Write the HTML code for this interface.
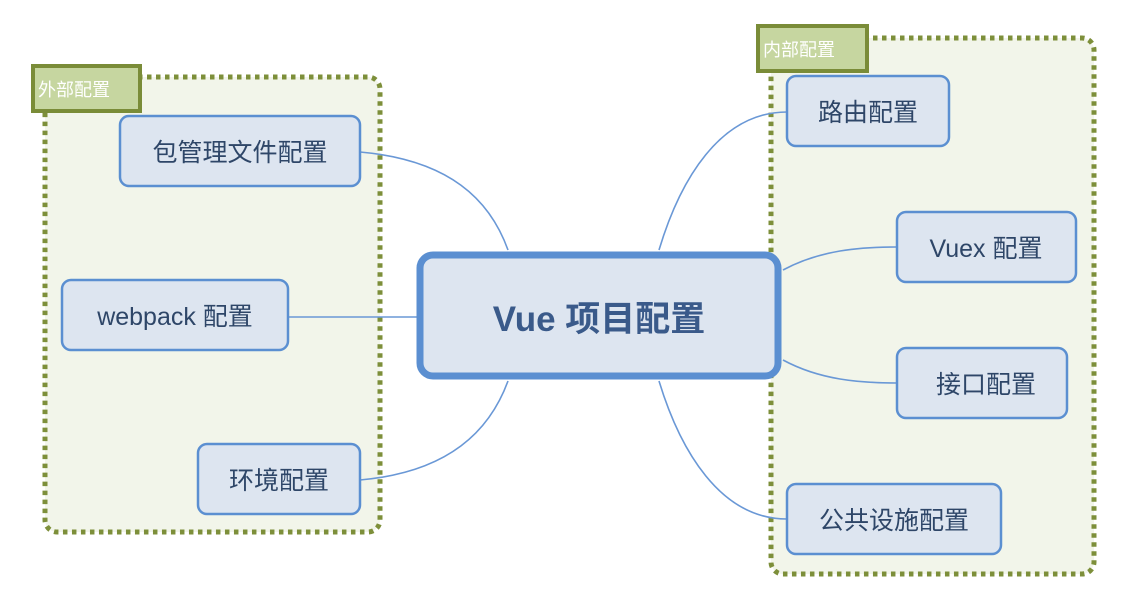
<!DOCTYPE html>
<html><head><meta charset="utf-8"><style>
html,body{margin:0;padding:0;background:#fff;}
svg{display:block;}
text{font-family:"Liberation Sans","Noto Sans CJK SC",sans-serif;}
</style></head><body>
<svg width="1130" height="602" viewBox="0 0 1130 602" xmlns="http://www.w3.org/2000/svg">
<rect x="45" y="77" width="335" height="455" rx="12" fill="#f2f5ea" stroke="#7d8f3a" stroke-width="5" stroke-dasharray="4.5 4.5"/>
<rect x="771" y="38" width="323" height="536" rx="12" fill="#f2f5ea" stroke="#7d8f3a" stroke-width="5" stroke-dasharray="4.5 4.5"/>
<rect x="33" y="66" width="107" height="45" fill="#c6d6a0" stroke="#7a8c38" stroke-width="4"/>
<text x="38" y="96" font-size="18" fill="#fff">外部配置</text>
<rect x="758" y="26" width="109" height="45" fill="#c6d6a0" stroke="#7a8c38" stroke-width="4"/>
<text x="763" y="56" font-size="18" fill="#fff">内部配置</text>
<g fill="none" stroke="#6a98d6" stroke-width="1.6">
<path d="M360 152 C450 160 490 200 508 250"/>
<path d="M288 317 L417 317"/>
<path d="M360 480 C450 472 490 430 508 381"/>
<path d="M659 250 C680 180 720 112 787 112"/>
<path d="M783 270 C820 250 860 247 897 247"/>
<path d="M783 360 C820 380 860 383 897 383"/>
<path d="M659 381 C680 450 720 519 787 519"/>
</g>
<g fill="#dde5f0" stroke="#5b8fd1" stroke-width="2.5">
<rect x="120" y="116" width="240" height="70" rx="9"/>
<rect x="62" y="280" width="226" height="70" rx="9"/>
<rect x="198" y="444" width="162" height="70" rx="9"/>
<rect x="787" y="76" width="162" height="70" rx="9"/>
<rect x="897" y="212" width="179" height="70" rx="9"/>
<rect x="897" y="348" width="170" height="70" rx="9"/>
<rect x="787" y="484" width="214" height="70" rx="9"/>
<rect x="420" y="255" width="358" height="121" rx="13" stroke-width="7"/>
</g>
<g fill="#2e4668" font-size="25" text-anchor="middle">
<text x="240" y="161">包管理文件配置</text>
<text x="175" y="325">webpack 配置</text>
<text x="279" y="489">环境配置</text>
<text x="868" y="121">路由配置</text>
<text x="986" y="257">Vuex 配置</text>
<text x="986" y="393">接口配置</text>
<text x="894" y="529">公共设施配置</text>
<text x="599" y="331" font-size="35" font-weight="bold" fill="#3a5a8a">Vue 项目配置</text>
</g>
</svg>
</body></html>
